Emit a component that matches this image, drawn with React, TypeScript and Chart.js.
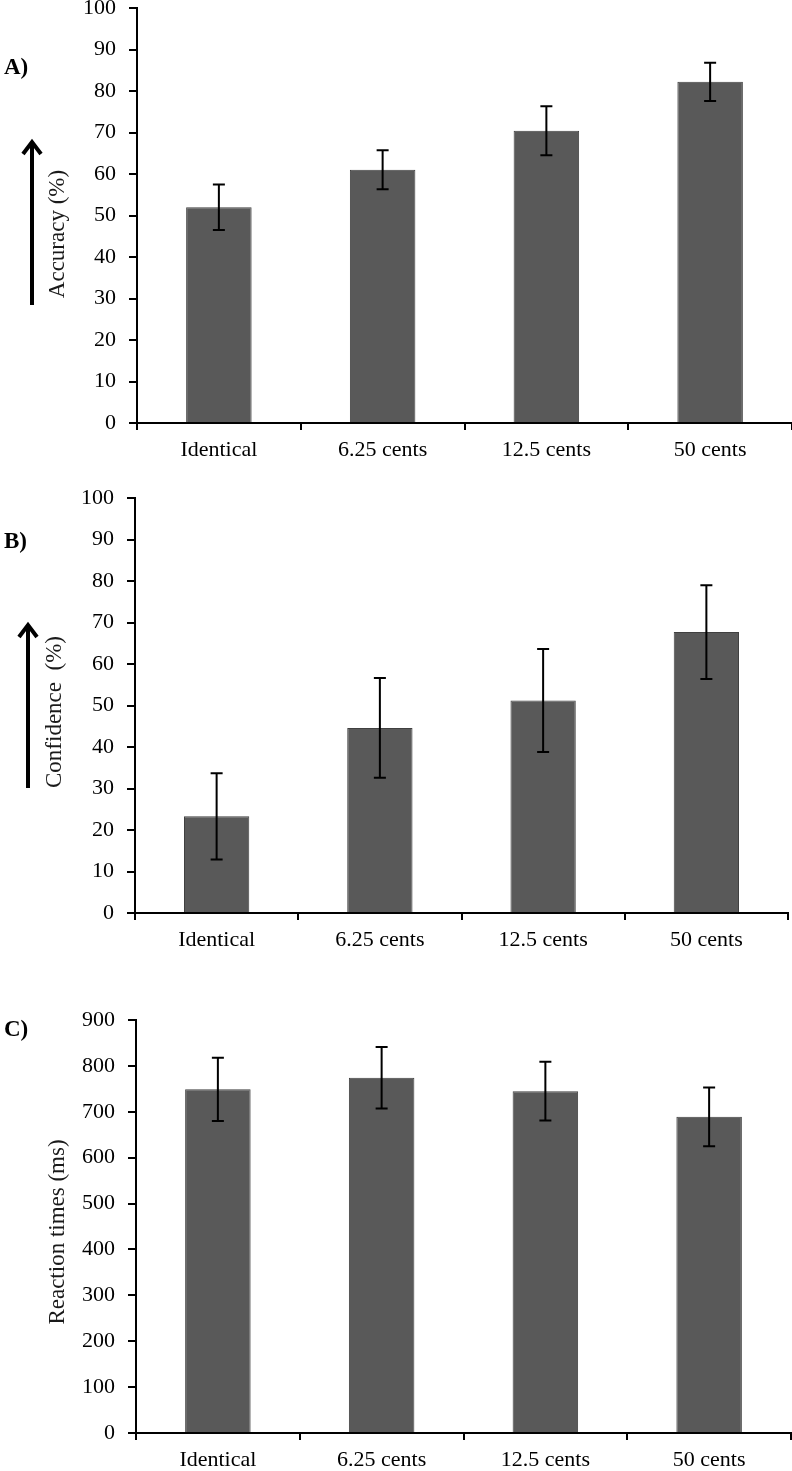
import React, { useEffect, useRef } from "react";
import { Chart, registerables } from "chart.js";

Chart.register(...registerables);

const categories = ["Identical", "6.25 cents", "12.5 cents", "50 cents"];

const accuracy = [52.0, 61.0, 70.4, 82.2];
const accuracyErr = [5.5, 4.7, 5.9, 4.6];

const confidence = [23.3, 44.6, 51.2, 67.7];
const confidenceErr = [10.4, 12.0, 12.4, 11.3];

const reactionTimes = [749, 774, 745, 689];
const reactionErr = [69, 67, 64, 64];

const SERIF = "'Liberation Serif', 'Times New Roman', serif";
const PAD_TOP = 34;

type PanelCfg = {
  key: string;
  label: string;
  yTitle: string;
  values: number[];
  errors: number[];
  yMax: number;
  step: number;
  areaTop: number;
  areaBottom: number;
  axisX: number;
  right: number;
  titleX: number;
  titleY: number;
  arrow: null | { x: number; tip: number; tail: number };
  labelY: number;
};

const panels: PanelCfg[] = [
  {
    key: "A",
    label: "A)",
    yTitle: "Accuracy (%)",
    values: accuracy,
    errors: accuracyErr,
    yMax: 100,
    step: 10,
    areaTop: 8,
    areaBottom: 423,
    axisX: 137,
    right: 792,
    titleX: 58,
    titleY: 234,
    arrow: { x: 32, tip: 140, tail: 305 },
    labelY: 68,
  },
  {
    key: "B",
    label: "B)",
    yTitle: "Confidence  (%)",
    values: confidence,
    errors: confidenceErr,
    yMax: 100,
    step: 10,
    areaTop: 498,
    areaBottom: 913,
    axisX: 135,
    right: 788,
    titleX: 55,
    titleY: 712,
    arrow: { x: 28, tip: 623, tail: 788 },
    labelY: 542,
  },
  {
    key: "C",
    label: "C)",
    yTitle: "Reaction times (ms)",
    values: reactionTimes,
    errors: reactionErr,
    yMax: 900,
    step: 100,
    areaTop: 1020,
    areaBottom: 1433,
    axisX: 136,
    right: 791,
    titleX: 58,
    titleY: 1232,
    arrow: null,
    labelY: 1030,
  },
];

const decorPlugin = {
  id: "decor",
  afterDatasetsDraw(chart: any, _args: any, opts: any) {
    const { ctx, scales } = chart;
    const meta = chart.getDatasetMeta(0);
    const errs: number[] = opts.errors || [];
    const vals: number[] = chart.data.datasets[0].data;
    ctx.save();
    ctx.strokeStyle = "#000";
    ctx.lineWidth = 2;
    meta.data.forEach((bar: any, i: number) => {
      const x = bar.x;
      const yTop = scales.y.getPixelForValue(vals[i] + errs[i]);
      const yBot = scales.y.getPixelForValue(vals[i] - errs[i]);
      const cap = 6;
      ctx.beginPath();
      ctx.moveTo(x, yTop);
      ctx.lineTo(x, yBot);
      ctx.moveTo(x - cap, yTop);
      ctx.lineTo(x + cap, yTop);
      ctx.moveTo(x - cap, yBot);
      ctx.lineTo(x + cap, yBot);
      ctx.stroke();
    });
    ctx.restore();
  },
  afterDraw(chart: any, _args: any, opts: any) {
    const { ctx } = chart;
    const top = opts.top;
    ctx.save();
    ctx.fillStyle = "#000";
    ctx.font = `bold 23px ${SERIF}`;
    ctx.textAlign = "left";
    ctx.textBaseline = "middle";
    ctx.fillText(opts.label, 4, opts.labelY - top);
    ctx.save();
    ctx.translate(opts.titleX, opts.titleY - top);
    ctx.rotate(-Math.PI / 2);
    ctx.font = `23px ${SERIF}`;
    ctx.fillStyle = "#1a1a1a";
    ctx.textAlign = "center";
    ctx.textBaseline = "middle";
    ctx.fillText(opts.yTitle, 0, 0);
    ctx.restore();
    if (opts.arrow) {
      const a = opts.arrow;
      const tip = a.tip - top;
      const tail = a.tail - top;
      ctx.strokeStyle = "#000";
      ctx.lineWidth = 4;
      ctx.lineCap = "butt";
      ctx.beginPath();
      ctx.moveTo(a.x, tail);
      ctx.lineTo(a.x, tip + 4);
      ctx.stroke();
      ctx.lineJoin = "miter";
      ctx.beginPath();
      ctx.moveTo(a.x - 9, tip + 14);
      ctx.lineTo(a.x, tip + 2);
      ctx.lineTo(a.x + 9, tip + 14);
      ctx.stroke();
    }
    ctx.restore();
  },
};

function Panel({ cfg }: { cfg: PanelCfg }) {
  const ref = useRef<HTMLCanvasElement | null>(null);
  const top = cfg.areaTop - PAD_TOP;
  const height = cfg.areaBottom - top + 50;
  useEffect(() => {
    if (!ref.current) return;
    const chart = new Chart(ref.current, {
      type: "bar",
      data: {
        labels: categories,
        datasets: [
          {
            data: cfg.values,
            backgroundColor: "#595959",
            borderColor: "#404040",
            borderWidth: 1,
            barPercentage: 0.4,
            categoryPercentage: 1,
          },
        ],
      },
      options: {
        responsive: false,
        animation: false,
        layout: { padding: { top: PAD_TOP, left: 0, right: 792 - cfg.right, bottom: 0 } },
        plugins: {
          legend: { display: false },
          tooltip: { enabled: false },
          decor: {
            errors: cfg.errors,
            top,
            label: cfg.label,
            labelY: cfg.labelY,
            yTitle: cfg.yTitle,
            titleX: cfg.titleX,
            titleY: cfg.titleY,
            arrow: cfg.arrow,
          },
        } as any,
        scales: {
          x: {
            offset: true,
            grid: {
              display: true,
              offset: true,
              drawOnChartArea: false,
              drawTicks: true,
              tickLength: 7,
              color: "#000",
              lineWidth: 2,
            },
            border: { display: true, color: "#000", width: 2 },
            ticks: {
              color: "#000",
              padding: 7,
              maxRotation: 0,
              font: { family: SERIF, size: 22 },
            },
            afterFit: (s: any) => {
              s.height = 50;
            },
          },
          y: {
            min: 0,
            max: cfg.yMax,
            grid: {
              display: true,
              drawOnChartArea: false,
              drawTicks: true,
              tickLength: 8,
              color: "#000",
              lineWidth: 2,
            },
            border: { display: true, color: "#000", width: 2 },
            ticks: {
              stepSize: cfg.step,
              color: "#000",
              padding: 13,
              font: { family: SERIF, size: 22 },
            },
            afterFit: (s: any) => {
              s.width = cfg.axisX;
            },
          },
        },
      },
      plugins: [decorPlugin],
    });
    return () => chart.destroy();
  }, [cfg]);
  return (
    <div
      style={{
        position: "absolute",
        left: 0,
        top,
        width: 792,
        height,
      }}
    >
      <canvas ref={ref} width={792} height={height} style={{ display: "block", width: 792, height }} />
    </div>
  );
}

export default function App() {
  return (
    <div
      style={{
        position: "absolute",
        left: 0,
        top: 0,
        width: 792,
        height: 1471,
        overflow: "hidden",
        background: "#fff",
      }}
    >
      {panels.map((p) => (
        <Panel key={p.key} cfg={p} />
      ))}
    </div>
  );
}
